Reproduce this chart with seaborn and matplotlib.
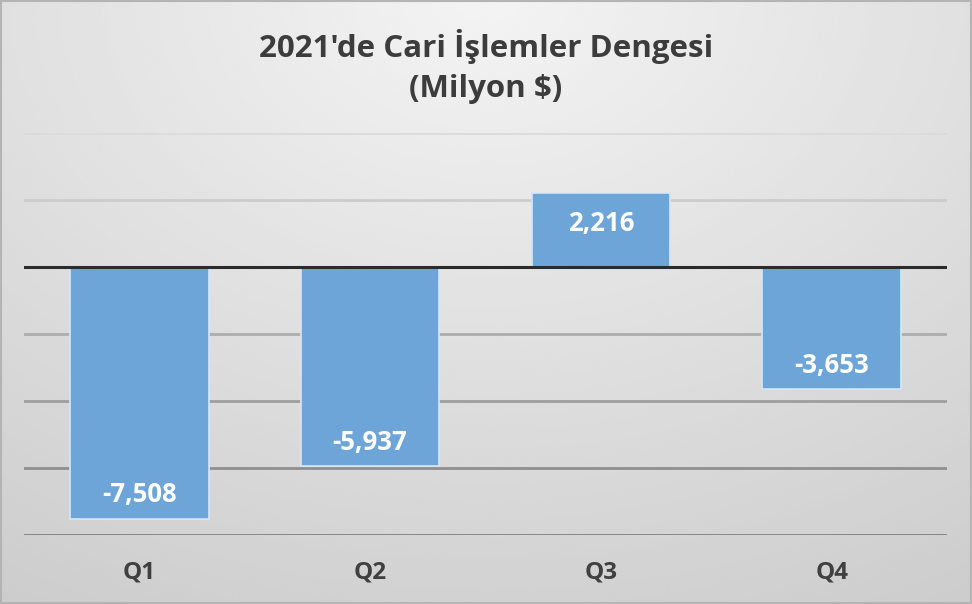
import numpy as np
import pandas as pd
import matplotlib.pyplot as plt
import seaborn as sns

# Chart data
quarters = ["Q1", "Q2", "Q3", "Q4"]
balance = [-7508, -5937, 2216, -3653]
y_ticks = [-8000, -6000, -4000, -2000, 0, 2000, 4000]

df = pd.DataFrame({"Quarter": quarters, "Balance": balance})

sns.set_theme(style="white")
plt.rcParams["font.family"] = ["Open Sans", "DejaVu Sans"]

fig = plt.figure(figsize=(9.72, 6.04), dpi=100)

# Background: soft radial grey gradient like the Excel chart area
bg = fig.add_axes([0, 0, 1, 1], zorder=0)
yy, xx = np.mgrid[0:1:300j, 0:1:480j]
dist = np.sqrt(((xx - 0.5) * 1.1) ** 2 + (yy * 0.95) ** 2)
shade = 0.955 - 0.14 * np.clip(dist, 0, 1.2)
bg.imshow(shade, cmap="gray", vmin=0, vmax=1, aspect="auto",
          extent=[0, 1, 1, 0], interpolation="bicubic")
bg.set_axis_off()
fig.patches.append(plt.Rectangle((0.001, 0.001), 0.998, 0.997, transform=fig.transFigure,
                                 fill=False, edgecolor="#b4b4b4", linewidth=1.5, zorder=5))

ax = fig.add_axes([24 / 972, 1 - 535 / 604, 923 / 972, 402 / 604], zorder=1)
ax.patch.set_alpha(0)

sns.barplot(data=df, x="Quarter", y="Balance", color="#6ea5d8", saturation=1,
            width=0.6, edgecolor="#d6e6f5", linewidth=1.2, ax=ax, zorder=3)

ax.set_ylim(y_ticks[0], y_ticks[-1])
ax.set_xlim(-0.5, len(quarters) - 0.5)

# Gridlines darkening toward the bottom
for t in y_ticks:
    if t == 0:
        continue
    frac = (y_ticks[-1] - t) / (y_ticks[-1] - y_ticks[0])
    g = 0.86 - 0.36 * frac
    ax.axhline(t, color=(g, g, g), linewidth=2, zorder=1)
ax.axhline(0, color="#2b2b2b", linewidth=2.2, zorder=4)

for s in ax.spines.values():
    s.set_visible(False)
ax.set_yticks([])
ax.set_xlabel("")
ax.set_ylabel("")
ax.tick_params(axis="x", length=0, pad=18)
for lbl in ax.get_xticklabels():
    lbl.set_fontsize(17.5)
    lbl.set_fontweight("bold")
    lbl.set_color("#404040")

# Data labels inside bar ends
for i, v in enumerate(balance):
    off = -22 if v > 0 else 17
    ax.annotate(f"{v:,}", (i, v), xytext=(0, off), textcoords="offset points",
                ha="center", va="center", fontsize=18.5, fontweight="bold",
                color="white", zorder=5)

fig.text(0.5, 1 - 46 / 604, "2021'de Cari İşlemler Dengesi", ha="center", va="center",
         fontsize=22.5, fontweight="bold", color="#3c3c3c")
fig.text(0.5, 1 - 89 / 604, "(Milyon $)", ha="center", va="center",
         fontsize=22.5, fontweight="bold", color="#3c3c3c")

fig.savefig("out.png", dpi=100)
